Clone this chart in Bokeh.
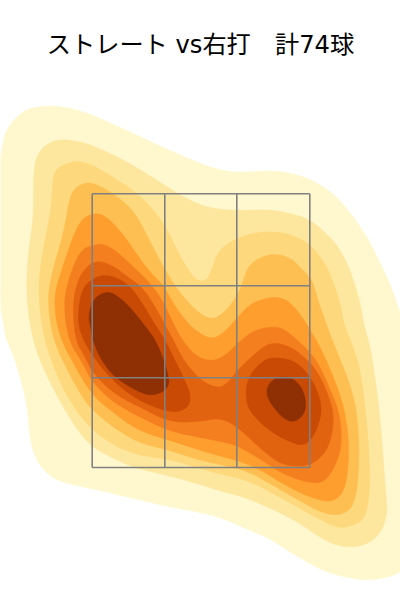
import numpy as np
from bokeh.plotting import figure
from bokeh.embed import file_html
from bokeh.resources import INLINE

title_text = "ストレート vs右打　計74球"
level_colors = ["#FFF8CF", "#FDE79F", "#FED87C", "#FEBF52", "#FD9E2E", "#F47F1F", "#E2630F", "#C94A05", "#8E3004"]

level1 = [(-1,165),(1,150),(5,130),(17,115),(30,107),(53,105),(77,109),(100,118),(133,133),(167,149),(200,163),(217,169),(237,172),(272,170),(293,173),(313,180),(333,193),(350,212),(367,237),(380,263),(388,280),(393,293),(400,313),(405,340),(410,400),(410,500),(405,565),(400,572),(387,577),(367,580),(347,577),(327,572),(307,562),(287,550),(267,537),(243,527),(220,517),(200,512),(167,506),(133,498),(100,490),(70,484),(50,477),(37,462),(30,443),(28,420),(25,397),(17,367),(8,343),(5,337),(2,317),(-1,305)]
level2 = [(33,177),(35,158),(42,147),(53,140),(68,139),(87,143),(110,153),(133,165),(157,180),(177,193),(200,205),(220,209),(240,210),(270,209),(290,213),(307,218),(323,230),(337,245),(347,263),(353,280),(360,303),(363,323),(370,347),(375,380),(380,420),(385,490),(387,510),(383,527),(375,538),(363,545),(347,547),(327,542),(295,520),(268,507),(245,497),(225,492),(200,484),(167,475),(133,467),(113,458),(92,447),(77,430),(57,397),(40,362),(32,337),(27,307),(26,280),(28,250),(33,217)]
level3 = [(52,187),(53,173),(60,165),(77,160),(93,165),(110,175),(127,186),(145,200),(165,225),(178,253),(190,273),(197,280),(203,281),(208,277),(212,267),(217,252),(227,243),(243,235),(263,231),(283,232),(300,238),(313,247),(327,267),(332,280),(340,303),(343,323),(353,347),(360,370),(365,410),(368,443),(370,487),(365,518),(353,525),(338,528),(315,517),(282,498),(248,480),(225,475),(200,468),(170,459),(140,455),(117,447),(92,430),(73,407),(57,377),(44,340),(39,307),(38,280),(43,247),(50,213)]
level4 = [(68,203),(73,188),(87,181),(103,187),(122,200),(135,213),(148,238),(163,267),(175,286),(182,295),(193,308),(210,320),(223,313),(236,297),(243,280),(247,267),(257,258),(273,253),(290,257),(303,270),(312,280),(316,295),(322,313),(330,335),(340,360),(350,385),(357,415),(359,460),(355,503),(342,515),(322,513),(295,498),(268,482),(245,470),(225,465),(200,460),(170,450),(140,443),(117,430),(92,410),(82,397),(67,370),(53,340),(48,310),(48,290),(53,267),(60,243),(65,223)]
level5 = [(97,212),(108,218),(122,233),(135,252),(148,270),(163,285),(172,302),(185,320),(195,330),(210,339),(223,333),(237,317),(250,303),(268,297),(280,297),(290,302),(302,317),(310,330),(320,347),(331,372),(340,395),(346,420),(349,450),(345,490),(332,502),(312,498),(285,485),(258,468),(237,460),(225,457),(200,450),(170,440),(137,430),(110,410),(92,395),(75,367),(61,340),(55,317),(54,293),(62,267),(72,237),(82,217)]
level6 = [(92,245),(102,243),(115,250),(128,262),(142,275),(153,287),(163,302),(172,322),(183,342),(197,357),(212,361),(225,355),(237,343),(253,330),(272,326),(283,328),(295,338),(310,352),(320,367),(330,390),(338,410),(341,430),(340,453),(328,478),(315,484),(285,475),(262,460),(237,445),(225,442),(200,437),(170,431),(140,417),(113,402),(92,382),(82,362),(68,340),(63,303),(68,280),(75,260),(83,248)]
level7 = [(92,262),(102,261),(115,267),(128,277),(142,287),(155,307),(163,322),(173,340),(183,360),(200,380),(217,388),(227,383),(237,370),(247,360),(262,347),(270,343),(280,343),(293,348),(310,362),(320,377),(328,395),(333,413),(332,433),(325,453),(308,466),(282,465),(262,450),(238,427),(220,417),(200,421),(170,422),(140,407),(113,393),(92,372),(85,357),(75,340),(72,303),(78,278),(86,267)]
level8a = [(105,274),(118,278),(130,286),(142,303),(152,320),(165,340),(173,357),(183,377),(190,393),(189,405),(180,411),(170,411),(157,408),(133,397),(110,378),(92,355),(83,340),(78,325),(78,307),(82,288),(92,278)]
level8b = [(277,357),(293,360),(307,372),(317,390),(322,410),(315,433),(305,445),(292,443),(268,430),(248,410),(245,393),(248,377),(257,365),(267,358)]
level9a = [(102,292),(112,292),(125,302),(138,317),(148,330),(155,340),(163,358),(169,380),(167,387),(160,393),(147,395),(130,387),(112,375),(100,358),(93,342),(90,327),(88,315),(92,300)]
level9b = [(282,376),(293,378),(302,388),(306,403),(303,415),(293,422),(283,418),(273,407),(267,397),(266,388),(272,379)]

zone_x = [91.7, 164.3, 236.3, 309.3]
zone_y = [193.3, 285.3, 377.3, 467.0]


def rounded(poly, passes=3):
    # Corner-cutting so the traced outline is drawn as a curve rather than facets.
    pts = np.array(poly, dtype=float)
    for _ in range(passes):
        nxt = np.roll(pts, -1, axis=0)
        pts = np.column_stack([0.75 * pts + 0.25 * nxt, 0.25 * pts + 0.75 * nxt]).reshape(-1, 2)
    return pts[:, 0], pts[:, 1]


p = figure(width=400, height=600, frame_width=400, frame_height=520,
           x_range=(0, 400), y_range=(600, 80),
           output_backend="svg", toolbar_location=None,
           min_border_left=0, min_border_right=0, min_border_bottom=0, min_border_top=80,
           margin=(0, 0, 0, 0), outline_line_color=None, border_fill_color="white")
p.axis.visible = False
p.grid.visible = False
p.title.text = title_text
p.title.align = "center"
p.title.text_font = "DejaVu Sans, Noto Sans CJK JP"
p.title.text_font_size = "24.2px"
p.title.text_font_style = "normal"
p.title.text_color = "black"
p.title.standoff = 43

layers = [[level1], [level2], [level3], [level4], [level5], [level6], [level7], [level8a, level8b], [level9a, level9b]]
for polys, col in zip(layers, level_colors):
    for poly in polys:
        xs, ys = rounded(poly)
        p.patch(xs, ys, fill_color=col, line_color=col, line_width=0.5)

for xv in zone_x:
    p.line([xv, xv], [zone_y[0], zone_y[-1]], line_color="#808080", line_width=1.6)
for yv in zone_y:
    p.line([zone_x[0], zone_x[-1]], [yv, yv], line_color="#808080", line_width=1.6)

open("out.html", "w").write(file_html(p, INLINE))
